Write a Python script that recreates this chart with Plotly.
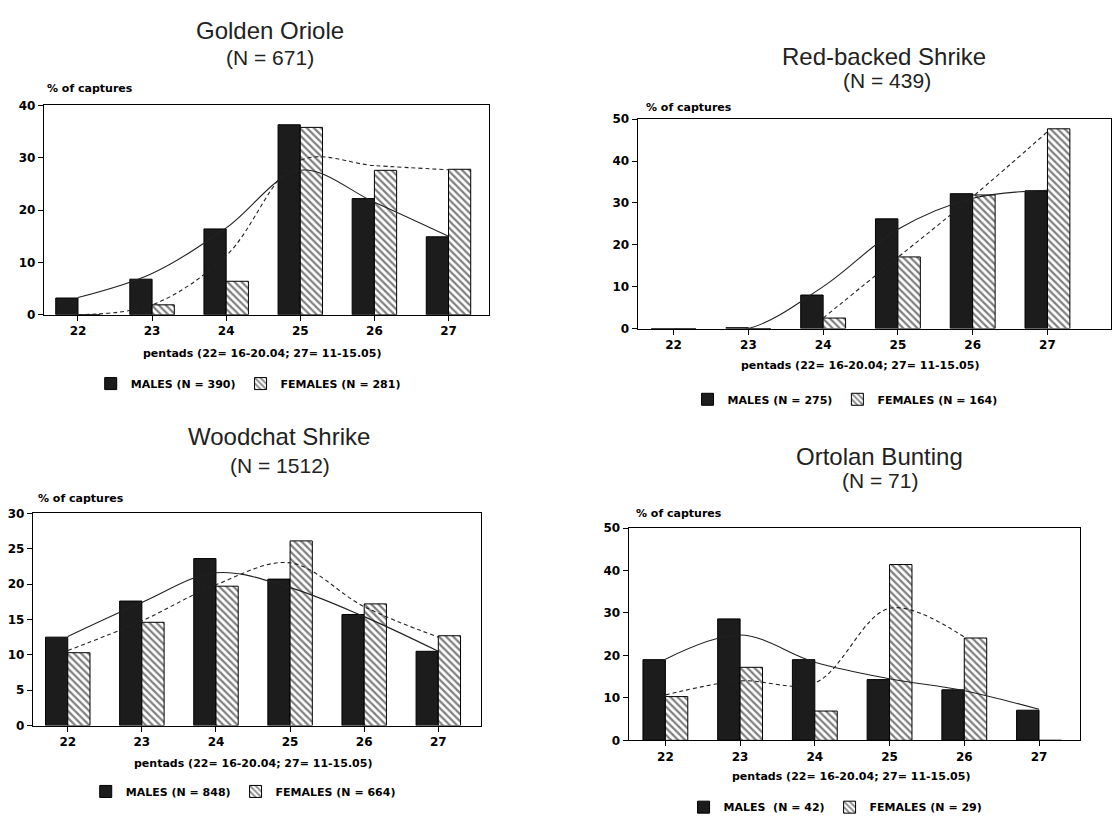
import plotly.graph_objects as go

# The page body keeps an 8px margin, so the figure is drawn 8px in from the window edges.
OFF = 8
W, H = 1120 - 2 * OFF, 832 - 2 * OFF

pentads = [22, 23, 24, 25, 26, 27]
tick_labels = ["22", "23", "24", "25", "26", "27"]

# Golden Oriole
go_males = [3.2, 6.8, 16.4, 36.3, 22.2, 14.9]
go_females = [0, 1.9, 6.4, 35.8, 27.6, 27.8]
go_male_curve = [3.3, 7.9, 16.6, 27.6, 21.5, 15.0]
go_female_curve = [0, 1.9, 11.3, 29.5, 28.5, 27.7]

# Red-backed Shrike
rb_males = [0, 0.2, 8.0, 26.2, 32.2, 32.9]
rb_females = [0, 0, 2.5, 17.1, 31.9, 47.7]
rb_male_curve = [0, 0, 10.0, 23.7, 31.1, 33.0]
rb_female_curve = [None, None, 2.5, 17.0, 31.5, 47.0]

# Woodchat Shrike
ws_males = [12.5, 17.6, 23.6, 20.7, 15.7, 10.5]
ws_females = [10.3, 14.6, 19.7, 26.1, 17.2, 12.7]
ws_male_curve = [12.6, 17.4, 21.6, 19.5, 15.4, 10.5]
ws_female_curve = [10.6, 14.8, 19.9, 23.0, 16.8, 12.5]

# Ortolan Bunting
ob_males = [19.0, 28.6, 19.0, 14.3, 11.9, 7.1]
ob_females = [10.3, 17.2, 6.9, 41.4, 24.1, 0]
ob_male_curve = [19.1, 24.8, 18.4, 14.5, 11.7, 7.3]
ob_female_curve = [10.7, 14.0, 13.5, 31.1, 24.3, None]

titles = ["Golden Oriole", "Red-backed Shrike", "Woodchat Shrike", "Ortolan Bunting"]
totals = ["(N = 671)", "(N = 439)", "(N = 1512)", "(N = 71)"]
male_labels = ["MALES (N = 390)", "MALES (N = 275)", "MALES (N = 848)", "MALES  (N = 42)"]
female_labels = ["FEMALES (N = 281)", "FEMALES (N = 164)", "FEMALES (N = 664)", "FEMALES (N = 29)"]
y_max = [40, 50, 30, 50]
y_dtick = [10, 10, 5, 10]
x_title = "pentads (22= 16-20.04; 27= 11-15.05)"
y_title = "% of captures"

males = [go_males, rb_males, ws_males, ob_males]
females = [go_females, rb_females, ws_females, ob_females]
male_curves = [go_male_curve, rb_male_curve, ws_male_curve, ob_male_curve]
female_curves = [go_female_curve, rb_female_curve, ws_female_curve, ob_female_curve]

# layout in window pixels: (left, right, top, bottom), x range
panels = [
    dict(l=41, r=488, t=100, b=313, xr=[21.54, 27.55],
         title=(268, 24), sub=(268, 51), ylab=(42, 83), xlab=(260, 352), leg=(88, 383)),
    dict(l=637, r=1112, t=114, b=327, xr=[21.52, 27.85],
         title=(884, 50), sub=(887, 75), ylab=(643, 102), xlab=(860, 365), leg=(687, 399)),
    dict(l=30, r=480, t=515, b=731, xr=[21.53, 27.58],
         title=(277, 437), sub=(278, 466), ylab=(33, 500), xlab=(251, 770), leg=(83, 798)),
    dict(l=628, r=1081, t=530, b=746, xr=[21.51, 27.55],
         title=(880, 457), sub=(880, 482), ylab=(633, 515), xlab=(851, 783), leg=(683, 814)),
]


def px(x):
    return min(1.0, max(0.0, (x - OFF) / W))


def py(y):
    return min(1.0, max(0.0, 1 - (y - OFF) / H))


small_font = dict(family="DejaVu Sans", size=11, color="black", weight="bold")
tick_font = dict(family="DejaVu Sans", size=12, color="black", weight="bold")
title_font = dict(family="Liberation Sans", size=24, color="#222")
sub_font = dict(family="Liberation Sans", size=21, color="#222")

fig = go.Figure()
annotations = []
layout_axes = {}

for i, p in enumerate(panels):
    n = "" if i == 0 else str(i + 1)
    xa, ya = "x" + n, "y" + n
    leg = "legend" + n
    fig.add_trace(go.Bar(
        x=pentads, y=males[i], name=male_labels[i], xaxis=xa, yaxis=ya, legend=leg,
        marker=dict(color="#1c1c1c", line=dict(color="black", width=1)),
    ))
    fig.add_trace(go.Bar(
        x=pentads, y=females[i], name=female_labels[i], xaxis=xa, yaxis=ya, legend=leg,
        marker=dict(color="white", line=dict(color="black", width=1),
                    pattern=dict(shape="\\", fgcolor="black", bgcolor="white", size=5, solidity=0.45)),
    ))
    fig.add_trace(go.Scatter(
        x=pentads, y=male_curves[i], mode="lines", xaxis=xa, yaxis=ya, showlegend=False,
        line=dict(color="#222", width=1.1, shape="spline", smoothing=1.0), hoverinfo="skip",
    ))
    fig.add_trace(go.Scatter(
        x=pentads, y=female_curves[i], mode="lines", xaxis=xa, yaxis=ya, showlegend=False,
        line=dict(color="#222", width=1.1, shape="spline", smoothing=1.0, dash="4px,3px"),
        hoverinfo="skip",
    ))

    layout_axes["xaxis" + n] = dict(
        domain=[px(p["l"]), px(p["r"])], range=p["xr"], anchor=ya,
        tickvals=pentads, ticktext=tick_labels, ticks="outside", ticklen=5, tickcolor="black",
        showline=True, linecolor="black", linewidth=1.3, mirror=True, showgrid=False,
        zeroline=False, tickfont=tick_font, fixedrange=True,
    )
    layout_axes["yaxis" + n] = dict(
        domain=[py(p["b"]), py(p["t"])], range=[0, y_max[i]], anchor=xa,
        dtick=y_dtick[i], ticks="outside", ticklen=5, tickcolor="black",
        showline=True, linecolor="black", linewidth=1.3, mirror=True, showgrid=False,
        zeroline=False, tickfont=tick_font, fixedrange=True,
    )
    layout_axes[leg] = dict(
        x=px(p["leg"][0]), y=py(p["leg"][1]), xanchor="left", yanchor="middle",
        orientation="h", font=small_font, bgcolor="rgba(0,0,0,0)", itemwidth=30,
        traceorder="normal",
    )

    annotations += [
        dict(text=titles[i], x=px(p["title"][0]), y=py(p["title"][1]), xref="paper", yref="paper",
             showarrow=False, xanchor="center", yanchor="middle", font=title_font),
        dict(text=totals[i], x=px(p["sub"][0]), y=py(p["sub"][1]), xref="paper", yref="paper",
             showarrow=False, xanchor="center", yanchor="middle", font=sub_font),
        dict(text=y_title, x=px(p["ylab"][0]), y=py(p["ylab"][1]), xref="paper", yref="paper",
             showarrow=False, xanchor="left", yanchor="middle", font=small_font),
        dict(text=x_title, x=px(p["xlab"][0]), y=py(p["xlab"][1]), xref="paper", yref="paper",
             showarrow=False, xanchor="center", yanchor="middle", font=small_font),
    ]

fig.update_layout(
    width=W, height=H, autosize=False,
    margin=dict(l=0, r=0, t=0, b=0),
    paper_bgcolor="white", plot_bgcolor="white",
    barmode="group", bargap=0.4, bargroupgap=0,
    annotations=annotations,
    **layout_axes,
)

fig.write_html("out.html")
